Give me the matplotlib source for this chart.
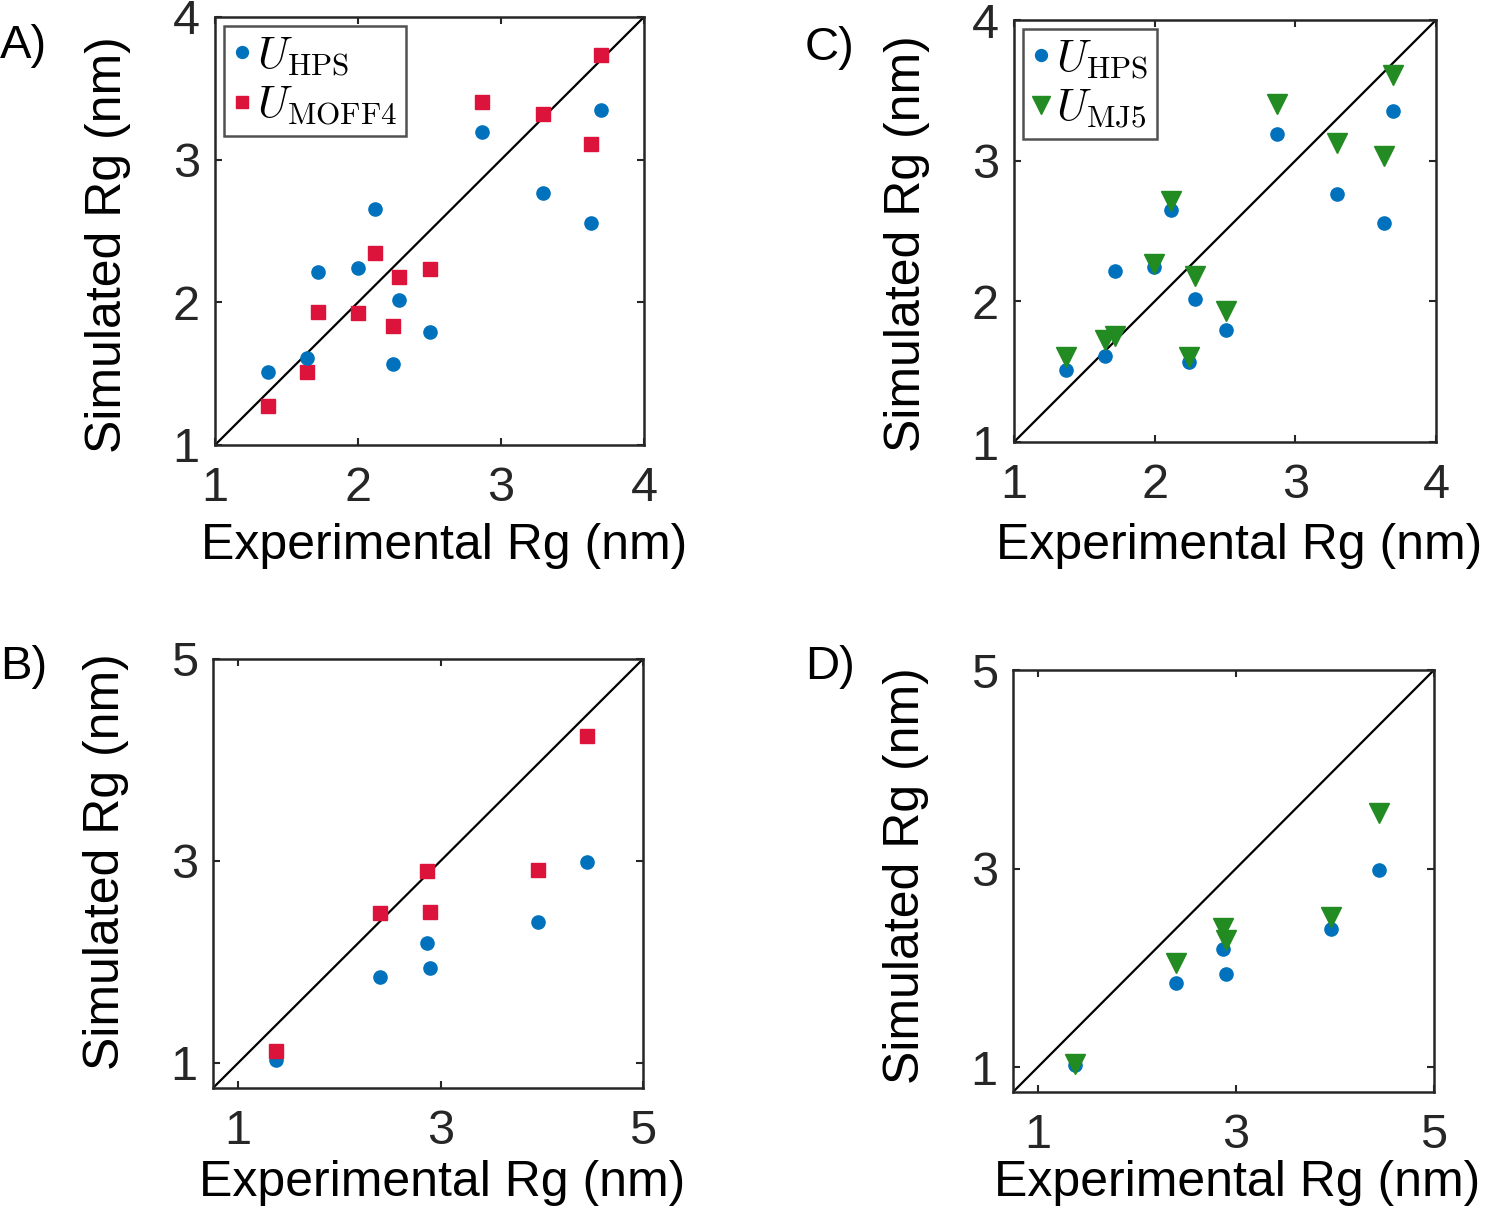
import matplotlib
matplotlib.use("Agg")
import matplotlib.pyplot as plt
import matplotlib.transforms as mtransforms
import numpy as np

plt.rcParams['font.family'] = ['Liberation Sans', 'DejaVu Sans']
plt.rcParams['mathtext.fontset'] = 'cm'

# ---- data: panels A / C (set 1) ----
exp1 = [1.368, 1.646, 1.718, 1.998, 2.119, 2.287, 2.247, 2.506, 2.867, 3.296, 3.627, 3.697]
hps1 = [1.514, 1.613, 2.216, 2.244, 2.651, 2.017, 1.566, 1.795, 3.193, 2.765, 2.559, 3.350]
moff1 = [1.274, 1.514, 1.935, 1.924, 2.344, 2.178, 1.837, 2.232, 3.404, 3.319, 3.107, 3.736]
mj1 = [1.601, 1.724, 1.753, 2.264, 2.715, 2.180, 1.601, 1.931, 3.406, 3.126, 3.036, 3.610]

# ---- data: panels B / D (set 2) ----
exp2 = [1.374, 2.397, 2.868, 2.897, 3.964, 4.444]
hps2 = [1.023, 1.850, 2.186, 1.942, 2.390, 2.984]
moff2 = [1.115, 2.483, 2.904, 2.496, 2.911, 4.236]
mj2 = [1.030, 2.047, 2.402, 2.280, 2.510, 3.557]

ticks1 = [1, 2, 3, 4]
ticks2 = [1, 3, 5]
lim1 = (1, 4)
lim2 = (0.75, 5)

BLUE = '#0072BD'
RED = '#DC143C'
GREEN = '#228B22'

W, H = 1485, 1211
fig = plt.figure(figsize=(W / 100, H / 100), dpi=100)

def ax_at(l, r, t, b):
    return fig.add_axes([l / W, 1 - b / H, (r - l) / W, (b - t) / H])

def style(ax, lim, ticks, ylab_y, xlab_top):
    ax.set_xlim(lim)
    ax.set_ylim(lim)
    ax.set_xticks(ticks)
    ax.set_yticks(ticks)
    ax.tick_params(direction='in', length=5, width=1.5, top=True, right=True,
                   labelsize=35, colors='#262626')
    ax.tick_params(axis='x', pad=15)
    ax.tick_params(axis='y', pad=11)
    for s in ax.spines.values():
        s.set_linewidth(1.8)
        s.set_color('#262626')
    ax.plot(lim, lim, color='black', lw=1.6, zorder=1)
    ax.set_xlabel('Experimental Rg (nm)', fontsize=36)
    ax.set_ylabel('Simulated Rg (nm)', fontsize=36, labelpad=30)
    ax.xaxis.label.set_va('top')
    tr = mtransforms.blended_transform_factory(ax.transAxes, fig.transFigure)
    ax.xaxis.set_label_coords(0.533, 1 - xlab_top / H, transform=tr)
    ax.yaxis.label.set_y(ylab_y)

# A
axA = ax_at(215, 644, 17, 445)
style(axA, lim1, ticks1, 0.467, 523)
axA.plot(exp1, hps1, 'o', color=BLUE, ms=9.5, ls='none', label=r'$U_{\rm HPS}$', zorder=3)
axA.plot(exp1, moff1, 's', color=RED, ms=10, ls='none', label=r'$U_{\rm MOFF4}$', zorder=2)

# C
axC = ax_at(1014, 1436, 20, 442)
style(axC, lim1, ticks1, 0.47, 523)
axC.plot(exp1, hps1, 'o', color=BLUE, ms=9.5, ls='none', label=r'$U_{\rm HPS}$', zorder=2)
axC.plot(exp1, mj1, 'v', color=GREEN, ms=14, ls='none', label=r'$U_{\rm MJ5}$', zorder=3)

# B
axB = ax_at(213, 643, 659, 1088)
style(axB, lim2, ticks2, 0.527, 1160)
axB.plot(exp2, hps2, 'o', color=BLUE, ms=9.5, ls='none', zorder=2)
axB.plot(exp2, moff2, 's', color=RED, ms=10, ls='none', zorder=3)

# D
axD = ax_at(1013, 1434, 670, 1092)
style(axD, lim2, ticks2, 0.512, 1160)
axD.plot(exp2, hps2, 'o', color=BLUE, ms=9.5, ls='none', zorder=2)
axD.plot(exp2, mj2, 'v', color=GREEN, ms=14, ls='none', zorder=3)

for ax in (axA, axC):
    leg = ax.legend(loc='upper left', fontsize=32, frameon=True, fancybox=False,
                    handlelength=0.4, handletextpad=0.15, borderpad=0.2,
                    labelspacing=0.15, borderaxespad=0.2, markerscale=0.9)
    leg.get_frame().set_edgecolor('#262626')
    leg.get_frame().set_linewidth(1.8)

for txt, x, y in [('A)', 0, 46), ('B)', 0, 667), ('C)', 805, 48), ('D)', 805, 667)]:
    fig.text(x / W, 1 - y / H, txt, fontsize=34, va='center', ha='left')

fig.savefig('out.png', dpi=100)
